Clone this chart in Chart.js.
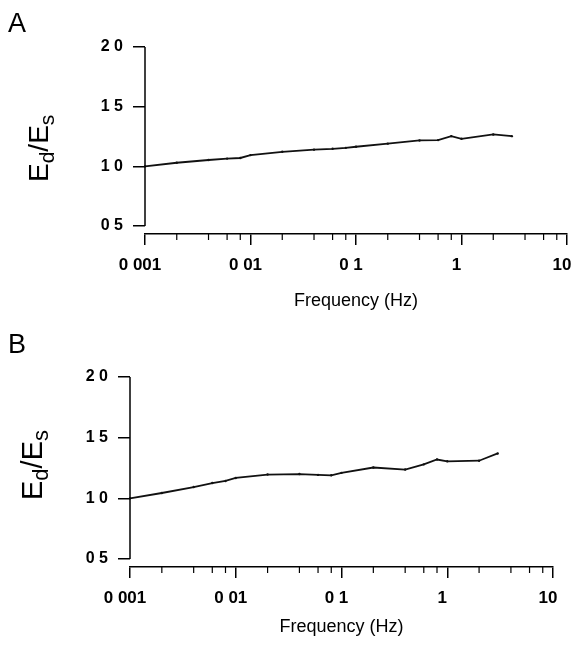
<!DOCTYPE html>
<html>
<head>
<meta charset="utf-8">
<script src="https://cdn.jsdelivr.net/npm/chart.js@4.4.0/dist/chart.umd.min.js"></script>
<style>
  html, body { margin: 0; padding: 0; background: #fff; }
  .panel { position: absolute; left: 0; width: 571px; }
  #wrapA { top: 0; height: 320px; }
  #wrapB { top: 320px; height: 328px; }
</style>
</head>
<body>
<div class="panel" id="wrapA"><canvas id="chartA" width="571" height="320"></canvas></div>
<div class="panel" id="wrapB"><canvas id="chartB" width="571" height="328"></canvas></div>
<script>
// frequencies (Hz), same for both panels
const freq = [0.001, 0.002, 0.004, 0.006, 0.008, 0.01, 0.02, 0.04, 0.06, 0.08, 0.1, 0.2, 0.4, 0.6, 0.8, 1, 2, 3];

// Ed/Es ratio, panel A
const ratioA = [1.00, 1.03, 1.053, 1.065, 1.07, 1.094, 1.122, 1.14, 1.147, 1.155, 1.164, 1.19, 1.217, 1.22, 1.253, 1.231, 1.267, 1.253];
// Ed/Es ratio, panel B
const ratioB = [1.00, 1.044, 1.093, 1.126, 1.143, 1.168, 1.196, 1.20, 1.193, 1.19, 1.21, 1.254, 1.237, 1.28, 1.32, 1.305, 1.31, 1.37];

// axis ticks (labels as printed)
const xTicks = [0.001, 0.01, 0.1, 1, 10];
const xTickLabels = ['0 001', '0 01', '0 1', '1', '10'];
const xMinorSteps = [2, 4, 6, 8];
const yTicks = [0.5, 1.0, 1.5, 2.0];
const yTickLabels = ['0 5', '1 0', '1 5', '2 0'];

const FONT = '"Liberation Sans", Arial, sans-serif';

// draws the detached y axis line, minor x ticks, Ed/Es label and panel letter
const decorPlugin = {
    id: 'decor',
    afterDraw(chart, args, opts) {
        const ctx = chart.ctx;
        const xs = chart.scales.x;
        const ys = chart.scales.y;
        const area = chart.chartArea;

        ctx.save();
        ctx.strokeStyle = '#000';
        ctx.lineWidth = 1.5;

        // y axis line, stops at 0.5 (x axis sits below it)
        ctx.beginPath();
        ctx.moveTo(area.left, ys.getPixelForValue(yTicks[yTicks.length - 1]));
        ctx.lineTo(area.left, ys.getPixelForValue(yTicks[0]));
        ctx.stroke();

        // minor ticks on the log axis
        ctx.lineWidth = 1.2;
        for (let d = 0; d < xTicks.length - 1; d++) {
            xMinorSteps.forEach(m => {
                const px = xs.getPixelForValue(xTicks[d] * m);
                ctx.beginPath();
                ctx.moveTo(px, area.bottom);
                ctx.lineTo(px, area.bottom + 6);
                ctx.stroke();
            });
        }

        // y title  E_d / E_s , rotated
        ctx.fillStyle = '#000';
        ctx.textBaseline = 'alphabetic';
        ctx.translate(opts.labelX, opts.labelY);
        ctx.rotate(-Math.PI / 2);
        const big = opts.labelSize + 'px ' + FONT;
        const small = Math.round(opts.labelSize * 0.75) + 'px ' + FONT;
        const sub = Math.round(opts.labelSize * 0.2);
        let cx = 0;
        const parts = [['E', big, 0], ['d', small, sub], ['/', big, 0], ['E', big, 0], ['s', small, sub]];
        parts.forEach(p => {
            ctx.font = p[1];
            ctx.fillText(p[0], cx, p[2]);
            cx += ctx.measureText(p[0]).width;
        });
        ctx.restore();

        // panel letter
        ctx.save();
        ctx.fillStyle = '#000';
        ctx.font = '27px ' + FONT;
        ctx.textBaseline = 'alphabetic';
        ctx.fillText(opts.letter, 8, opts.letterY);
        ctx.restore();
    }
};

function makeChart(canvasId, ratio, cfg) {
    new Chart(document.getElementById(canvasId), {
        type: 'line',
        data: {
            datasets: [{
                data: freq.map((f, i) => ({ x: f, y: ratio[i] })),
                borderColor: '#111',
                borderWidth: 1.8,
                pointRadius: 1.2,
                pointBackgroundColor: '#111',
                pointBorderWidth: 0,
                tension: 0,
                clip: false
            }]
        },
        options: {
            responsive: false,
            animation: false,
            layout: { padding: { top: cfg.top, left: 0, right: cfg.right, bottom: 0 } },
            plugins: {
                legend: { display: false },
                tooltip: { enabled: false },
                decor: cfg.decor
            },
            scales: {
                x: {
                    type: 'logarithmic',
                    min: 0.001,
                    max: 10,
                    afterBuildTicks: s => { s.ticks = xTicks.map(v => ({ value: v })); },
                    afterFit: s => { s.height = cfg.xHeight; s.paddingLeft = 0; s.paddingRight = 0; },
                    ticks: {
                        autoSkip: false,
                        maxRotation: 0,
                        padding: 10,
                        labelOffset: -5,
                        color: '#000',
                        font: { family: FONT, size: 17, weight: 'bold' },
                        callback: (v, i) => xTickLabels[i]
                    },
                    grid: { drawOnChartArea: false, drawTicks: true, tickLength: 11, color: '#000', lineWidth: 1.5 },
                    border: { display: true, color: '#000', width: 1.5 },
                    title: {
                        display: true,
                        text: 'Frequency (Hz)',
                        color: '#000',
                        font: { family: FONT, size: 18 },
                        padding: { top: 0, bottom: cfg.titlePad }
                    }
                },
                y: {
                    min: cfg.yMin,
                    max: 2.0,
                    afterBuildTicks: s => { s.ticks = yTicks.map(v => ({ value: v })); },
                    afterFit: s => { s.width = cfg.yWidth; s.paddingTop = 0; s.paddingBottom = 0; },
                    ticks: {
                        padding: 10,
                        color: '#000',
                        font: { family: FONT, size: 16, weight: 'bold' },
                        callback: (v, i) => yTickLabels[i]
                    },
                    grid: { drawOnChartArea: false, drawTicks: true, tickLength: 12, color: '#000', lineWidth: 1.5 },
                    border: { display: false }
                }
            }
        },
        plugins: [decorPlugin]
    });
}

makeChart('chartA', ratioA, {
    top: 47, right: 4, xHeight: 86, yWidth: 145, yMin: 0.433, titlePad: 8,
    decor: { letter: 'A', letterY: 32, labelX: 48, labelY: 182, labelSize: 28 }
});

makeChart('chartB', ratioB, {
    top: 57, right: 18, xHeight: 81, yWidth: 130, yMin: 0.434, titlePad: 10,
    decor: { letter: 'B', letterY: 33, labelX: 42, labelY: 180, labelSize: 29 }
});
</script>
</body>
</html>
